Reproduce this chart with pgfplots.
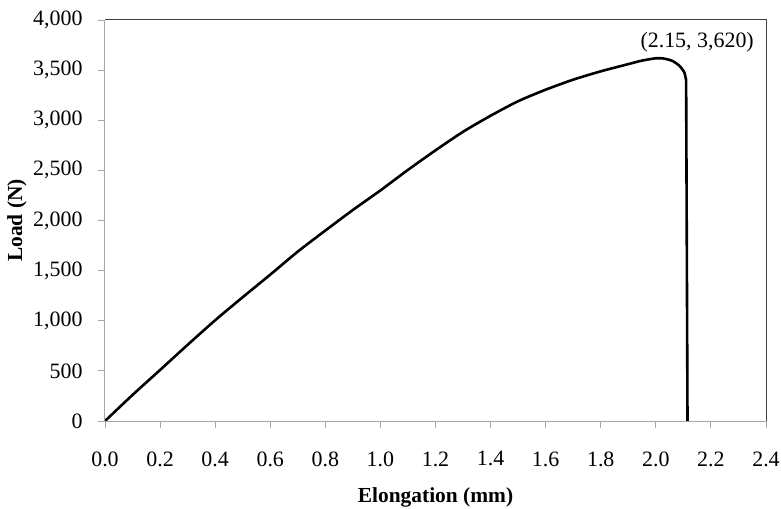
\documentclass[border=0pt]{standalone}
\usepackage{fontspec}
\setmainfont{Liberation Serif}
\usepackage{pgfplots}
\pgfplotsset{compat=1.18}

\definecolor{axGray}{HTML}{A8A8A8}
\definecolor{boxDark}{HTML}{404040}

\begin{document}
\begin{tikzpicture}
\begin{axis}[
	name=ax,
	at={(0,0)}, anchor=south west,
	width=661bp, height=401bp, scale only axis,
	xmin=0, xmax=2.4, ymin=0, ymax=4000,
	xtick={0,0.2,0.4,0.6,0.8,1.0,1.2,1.4,1.6,1.8,2.0,2.2,2.4},
	ytick={0,500,1000,1500,2000,2500,3000,3500,4000},
	tick pos=left, tick align=outside,
	major tick length=7bp,
	every tick/.style={draw=axGray,line width=0.9bp},
	axis line style={draw=none},
	clip=false,
	tick label style={font=\fontsize{22}{26}\selectfont},
	x tick label style={yshift=-20bp,/pgf/number format/.cd,fixed,fixed zerofill,precision=1,assume math mode=true},
	y tick label style={xshift=-12bp,/pgf/number format/.cd,fixed,1000 sep={,},assume math mode=true},
	label style={font=\fontsize{21.5}{25}\selectfont\bfseries},
	xlabel={Elongation (mm)},
	ylabel={Load (N)},
	xlabel style={at={(axis description cs:0.5,-0.19)},anchor=center},
	ylabel style={at={(axis description cs:-0.133,0.5)},anchor=center},
]
\addplot[black,line width=2.6bp,line join=round,smooth,tension=0.4] coordinates {
	(0,0) (0.1,260) (0.2,509) (0.3,760) (0.4,1005) (0.5,1235)
	(0.6,1460) (0.7,1690) (0.8,1900) (0.9,2105) (1.0,2300)
	(1.1,2505) (1.2,2700) (1.3,2885) (1.4,3045) (1.5,3190)
	(1.6,3305) (1.7,3405) (1.8,3488) (1.9,3560) (1.95,3595)
	(2.0,3618) (2.03,3615) (2.06,3592) (2.085,3545) (2.103,3480)
	(2.11,3400)
};
\addplot[black,line width=2.6bp,line join=round] coordinates {
	(2.11,3400) (2.115,0)
};
\draw[axGray,line width=1bp] (rel axis cs:0,1) -- (rel axis cs:0,0) -- (rel axis cs:1,0);
\draw[boxDark,line width=1bp] (rel axis cs:0,1) -- (rel axis cs:1,1) -- (rel axis cs:1,0);
\node[font=\fontsize{22}{26}\selectfont] at (axis cs:2.15,3775) {(2.15, 3,620)};
\end{axis}
\pgfresetboundingbox
\path (ax.south west) ++(-105bp,-88bp) rectangle ++(781bp,509bp);
\end{tikzpicture}
\end{document}
